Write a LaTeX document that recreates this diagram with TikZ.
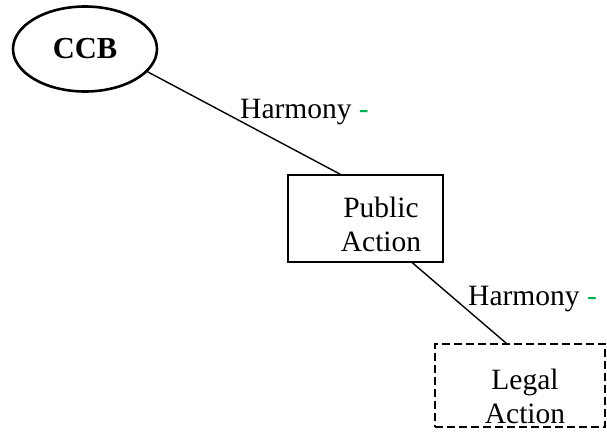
\documentclass[tikz,border=0pt]{standalone}
\usepackage{fontspec}
\setmainfont{Liberation Serif}
\usetikzlibrary{shapes.geometric}
\definecolor{harmonygreen}{RGB}{0,176,80}
\begin{document}
\begin{tikzpicture}[x=1pt,y=-1pt,
  every node/.style={font=\fontsize{29.5}{34}\selectfont},
  bodybox/.style={draw,line width=1.4pt,rectangle,inner sep=0pt},
  legalbox/.style={draw,line width=1.4pt,rectangle,inner sep=0pt,dash pattern=on 8pt off 4pt},
  link/.style={line width=1.4pt},
  relabel/.style={anchor=base west,inner sep=0pt}]
\useasboundingbox (0,0) rectangle (607,439);
% CCB ellipse
\node[draw,ellipse,line width=2.6pt,minimum width=144pt,minimum height=85pt,inner sep=0pt,
      font=\fontsize{30.5}{34}\selectfont\bfseries] (ccb) at (85,49) {CCB};
% Public Action box and its text
\node[bodybox,minimum width=155pt,minimum height=87pt] (pub) at (365.5,218.5) {};
\node[align=center,inner sep=0pt] (pubtext) at (381,224) {Public\\Action};
% Legal Action box (dashed) and its text
\node[legalbox,minimum width=170pt,minimum height=83pt] (legal) at (520,385.5) {};
\node[align=center,inner sep=0pt] (legaltext) at (525,396) {Legal\\Action};
% connectors
\draw[link] (ccb.-20) -- ([xshift=53pt]pub.north west);
\draw[link] ([xshift=125pt]pub.south west) -- ([xshift=72pt]legal.north west);
% relation labels
\node[relabel] (h1) at (240,118) {Harmony {\color{harmonygreen}-}};
\node[relabel] (h2) at (468,305) {Harmony {\color{harmonygreen}-}};
\end{tikzpicture}
\end{document}
